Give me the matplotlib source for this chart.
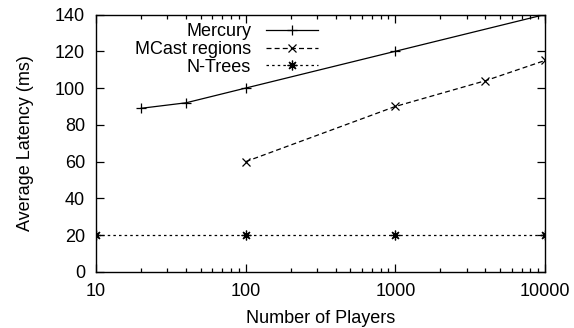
import matplotlib
matplotlib.use("Agg")
import matplotlib.pyplot as plt
from matplotlib.ticker import LogLocator, FixedLocator, NullFormatter

plt.rcParams['font.family'] = ['Liberation Sans', 'DejaVu Sans']
plt.rcParams['font.size'] = 13

# data
mercury_x = [20, 40, 100, 1000, 10000]
mercury_y = [89, 92, 100, 120, 140]
mcast_x = [100, 1000, 4000, 10000]
mcast_y = [60, 90, 104, 115]
ntrees_x = [10, 100, 1000, 10000]
ntrees_y = [20, 20, 20, 20]

fig = plt.figure(figsize=(5.74, 3.28), dpi=100)
ax = fig.add_axes([96 / 574, 1 - 272 / 328, 449 / 574, 257.5 / 328])

ax.plot(mercury_x, mercury_y, '-', color='black', lw=0.9, marker='+', ms=7, mew=0.9, label='Mercury')
ax.plot(mcast_x, mcast_y, '--', color='black', lw=0.9, dashes=(4, 2.5), marker='x', ms=6, mew=0.9,
        label='MCast regions')
ax.plot(ntrees_x, ntrees_y, ':', color='black', lw=0.9, dashes=(2, 2.5), marker=(8, 2, 0), ms=7, mew=0.9,
        label='N-Trees')

ax.set_xscale('log')
ax.set_xlim(10, 10000)
ax.set_ylim(0, 140)
ax.xaxis.set_major_locator(FixedLocator([10, 100, 1000, 10000]))
ax.set_xticklabels(['10', '100', '1000', '10000'])
ax.xaxis.set_minor_locator(LogLocator(base=10, subs=range(2, 10)))
ax.xaxis.set_minor_formatter(NullFormatter())
ax.set_yticks(range(0, 141, 20))

ax.tick_params(which='both', direction='in', top=True, right=True, width=0.9, colors='black')
ax.tick_params(which='major', length=6)
ax.tick_params(which='minor', length=3)
ax.tick_params(axis='x', which='major', pad=8)
ax.tick_params(axis='y', which='major', pad=8)
for s in ax.spines.values():
    s.set_linewidth(1.0)

ax.set_xlabel('Number of Players', labelpad=7)
ax.set_ylabel('Average Latency (ms)', labelpad=15)

ax.legend(loc='upper right', bbox_to_anchor=(318 / 574, 1 - 23 / 328), bbox_transform=fig.transFigure,
          frameon=False, markerfirst=False, handlelength=2.9, handletextpad=0.8,
          labelspacing=0.05, borderpad=0.0, borderaxespad=0.0)

fig.savefig('out.png', dpi=100)
